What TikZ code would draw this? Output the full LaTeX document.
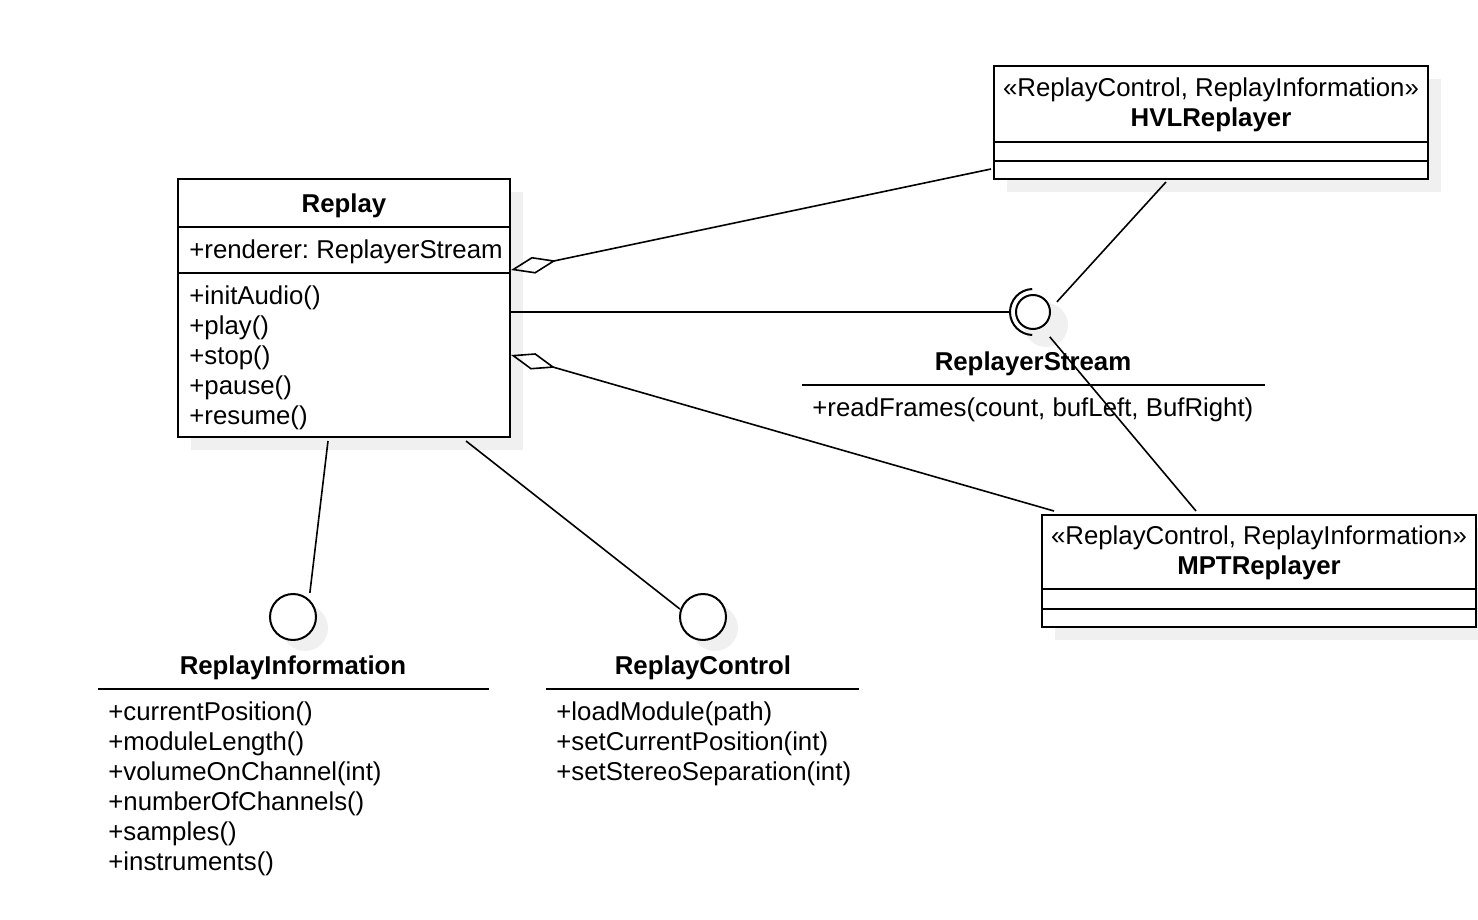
\documentclass[tikz,border=0pt]{standalone}
\usepackage{fontspec}
\setmainfont{Liberation Sans}
\frenchspacing
\usetikzlibrary{arrows.meta,shadows}
\definecolor{shadowgray}{HTML}{F0F0F0}
\tikzset{
  classbox/.style={draw, line width=1pt, fill=white, inner sep=0pt,
    general shadow={fill=shadowgray, shadow xshift=6.5pt, shadow yshift=-6.5pt}},
  iface/.style={draw, circle, line width=1pt, fill=white, inner sep=0pt,
    minimum size=23pt,
    general shadow={fill=shadowgray, shadow xshift=6pt, shadow yshift=-5.5pt}},
  member/.style={anchor=west, inner sep=0pt, yshift=-1.2pt, font=\fontsize{12.9}{15}\selectfont\frenchspacing},
  title/.style={inner sep=0pt, yshift=-1.2pt, font=\fontsize{12.9}{15}\selectfont\bfseries},
  stereo/.style={inner sep=0pt, yshift=-1.2pt, font=\fontsize{12.9}{15}\selectfont\frenchspacing},
  sep/.style={line width=1pt},
  link/.style={line width=0.8pt},
  agg/.style={line width=0.8pt, {Diamond[open, length=23pt, width=8.5pt]}-}
}
\begin{document}
\begin{tikzpicture}[x=0.5pt, y=-0.5pt]
  \useasboundingbox (0,0) rectangle (1478,920);

  % Replay class
  \node[classbox, minimum width=166pt, minimum height=129pt] (replay) at (344,308) {};
  \draw[sep] (replay.west |- 0,227) -- (replay.east |- 0,227);
  \draw[sep] (replay.west |- 0,273) -- (replay.east |- 0,273);
  \node[title] (replayname) at (344,203) {Replay};
  \node[member] (renderer) at (189,249) {+renderer: ReplayerStream};
  \foreach \m [count=\i from 0] in {+initAudio(),+play(),+stop(),+pause(),+resume()}
    \node[member] (rm\i) at (189,{295+30*\i}) {\m};

  % HVLReplayer
  \node[classbox, minimum width=217pt, minimum height=56.5pt] (hvl) at (1211,122.5) {};
  \draw[sep] (hvl.west |- 0,142) -- (hvl.east |- 0,142);
  \draw[sep] (hvl.west |- 0,161) -- (hvl.east |- 0,161);
  \node[stereo] (hvlst) at (1211,87) {«ReplayControl, ReplayInformation»};
  \node[title] (hvlname) at (1211,117) {HVLReplayer};

  % MPTReplayer
  \node[classbox, minimum width=217pt, minimum height=56pt] (mpt) at (1259,571) {};
  \draw[sep] (mpt.west |- 0,589) -- (mpt.east |- 0,589);
  \draw[sep] (mpt.west |- 0,609) -- (mpt.east |- 0,609);
  \node[stereo] (mptst) at (1259,535) {«ReplayControl, ReplayInformation»};
  \node[title] (mptname) at (1259,565) {MPTReplayer};

  % ReplayerStream
  \fill[shadowgray] (1046,325) circle[radius=11pt];
  \node[draw, circle, line width=1pt, fill=white, inner sep=0pt, minimum size=17pt] (stream) at (1033,312) {};
  \draw[line width=1pt] (stream.center) ++(92:11.5pt) arc[start angle=92, end angle=268, radius=11.5pt];
  \coordinate (sock) at ([xshift=-11.5pt]stream.center);
  \node[title] (streamname) at (1033,361) {ReplayerStream};
  \draw[sep] (802,385) -- (1265,385);
  \node[member] (readframes) at (812,407) {+readFrames(count, bufLeft, BufRight)};

  % ReplayInformation
  \node[iface] (rinfo) at (293,617) {};
  \node[title] (rinfoname) at (293,665) {ReplayInformation};
  \draw[sep] (98,689) -- (489,689);
  \foreach \m [count=\i from 0] in {+currentPosition(),+moduleLength(),+volumeOnChannel(int),
      +numberOfChannels(),+samples(),+instruments()}
    \node[member] (ri\i) at (108,{711+30*\i}) {\m};

  % ReplayControl
  \node[iface] (rctrl) at (703,617) {};
  \node[title] (rctrlname) at (703,665) {ReplayControl};
  \draw[sep] (546,689) -- (859,689);
  \foreach \m [count=\i from 0] in {+loadModule(path),+setCurrentPosition(int),+setStereoSeparation(int)}
    \node[member] (rc\i) at (556,{711+30*\i}) {\m};

  % connectors
  \draw[agg] ([yshift=19pt]replay.east) -- ([xshift=-1pt,yshift=5.5pt]hvl.south west);
  \draw[agg] ([yshift=-23.5pt]replay.east) -- ([xshift=6.5pt,yshift=1.5pt]mpt.north west);
  \draw[link] (replay.east |- sock) -- (sock);
  \draw[link] ([xshift=-22.5pt,yshift=-1pt]hvl.south) -- ([shift={(23:13pt)}]stream.center);
  \draw[link] ([xshift=-31.5pt,yshift=1.5pt]mpt.north) -- ([shift={(-56:15pt)}]stream.center);
  \draw[link] ([xshift=-8pt,yshift=-1.5pt]replay.south) -- ([shift={(55:14.7pt)}]rinfo.center);
  \draw[link] ([xshift=61pt,yshift=-1.5pt]replay.south) -- ([shift={(161:12.2pt)}]rctrl.center);
\end{tikzpicture}
\end{document}
